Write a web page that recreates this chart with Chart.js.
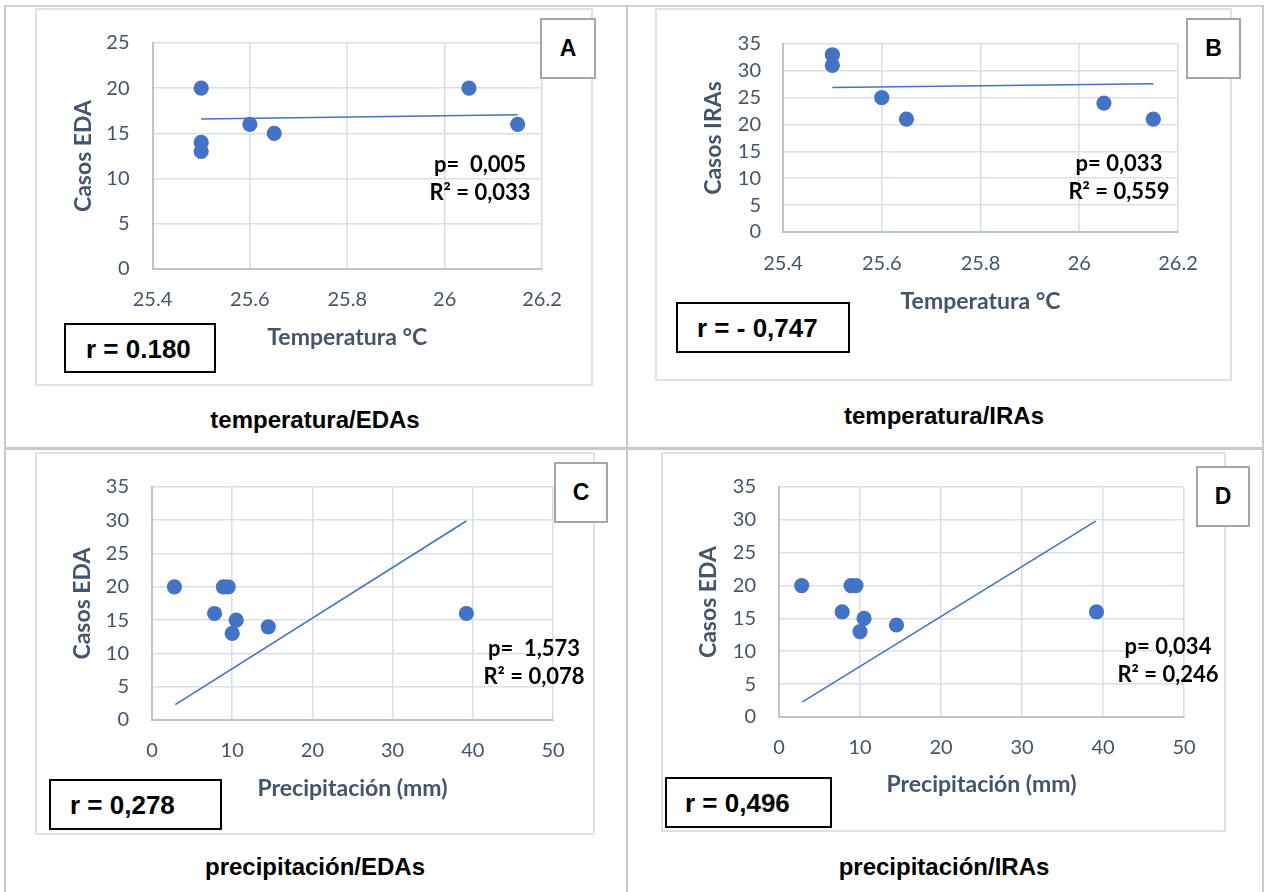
<!DOCTYPE html>
<html>
<head>
<meta charset="utf-8">
<script src="https://cdn.jsdelivr.net/npm/chart.js@4.4.1/dist/chart.umd.min.js"></script>
<style>
  body { margin: 0; background: #fff; width: 1265px; height: 892px; position: relative; overflow: hidden; }
  .rule { position: absolute; background: #c9c9c9; }
  .frame { position: absolute; border: 2px solid #dde2e9; box-sizing: border-box; }
  canvas { position: absolute; }
  .tag { position: absolute; box-sizing: border-box; border: 2.5px solid #a6a6a6; background: #fff;
         display: flex; align-items: center; justify-content: center; font: bold 23px "Liberation Sans", Arial, sans-serif; color: #000; }
  .rbox { position: absolute; box-sizing: border-box; border: 2px solid #000; background: #fff;
          font: bold 26px "Liberation Sans", Arial, sans-serif; color: #000; white-space: pre; }
  .stat { position: absolute; font: bold 22px Lato, sans-serif; color: #000; text-align: center;
          white-space: pre; line-height: 28px; transform: translateX(-50%); }
  .cap { position: absolute; font: bold 24px "Liberation Sans", Arial, sans-serif; color: #000;
         line-height: 24px; white-space: nowrap; transform: translateX(-50%); }
</style>
</head>
<body>
<!-- table rules -->
<div class="rule" style="left:4px;top:5px;width:1260px;height:2px;background:#d3d3d3"></div>
<div class="rule" style="left:4px;top:5px;width:2px;height:887px"></div>
<div class="rule" style="left:626px;top:5px;width:2px;height:887px"></div>
<div class="rule" style="left:1262px;top:5px;width:2px;height:887px"></div>
<div class="rule" style="left:4px;top:447px;width:1260px;height:3px"></div>

<div class="frame" style="left:35px;top:8px;width:558px;height:378px"></div>
<div class="frame" style="left:655px;top:8px;width:577px;height:373px"></div>
<div class="frame" style="left:35px;top:452px;width:560px;height:383px"></div>
<div class="frame" style="left:661px;top:452px;width:565px;height:380px"></div>

<canvas id="chartA"></canvas>
<canvas id="chartB"></canvas>
<canvas id="chartC"></canvas>
<canvas id="chartD"></canvas>

<div class="tag" style="left:540px;top:18px;width:56px;height:61px">A</div>
<div class="tag" style="left:1186px;top:18px;width:55px;height:61px">B</div>
<div class="tag" style="left:554px;top:462px;width:54px;height:61px">C</div>
<div class="tag" style="left:1196px;top:466px;width:54px;height:61px">D</div>

<div class="stat" style="left:480px;top:150px">p=  0,005
R² = 0,033</div>
<div class="stat" style="left:1119px;top:149px">p= 0,033
R² = 0,559</div>
<div class="stat" style="left:534px;top:634px">p=  1,573
R² = 0,078</div>
<div class="stat" style="left:1168px;top:632px">p= 0,034
R² = 0,246</div>

<div class="rbox" style="left:64px;top:323px;width:152px;height:50px;padding:9px 0 0 20px">r = 0.180</div>
<div class="rbox" style="left:676px;top:302px;width:174px;height:51px;padding:9px 0 0 19px">r = - 0,747</div>
<div class="rbox" style="left:49px;top:779px;width:173px;height:51px;padding:9px 0 0 19px">r = 0,278</div>
<div class="rbox" style="left:665px;top:777px;width:167px;height:51px;padding:9px 0 0 18px">r = 0,496</div>

<div class="cap" style="left:315px;top:408px">temperatura/EDAs</div>
<div class="cap" style="left:944px;top:404px">temperatura/IRAs</div>
<div class="cap" style="left:315px;top:855px">precipitación/EDAs</div>
<div class="cap" style="left:944px;top:855px">precipitación/IRAs</div>

<script>
// temperatura vs EDA
const tempEdaX = [25.5, 25.5, 25.5, 25.6, 25.65, 26.05, 26.15];
const tempEdaY = [20, 14, 13, 16, 15, 20, 16];
const trendAX = [25.5, 26.15];
const trendAY = [16.6, 17.06];
// temperatura vs IRA
const tempIraX = [25.5, 25.5, 25.6, 25.65, 26.05, 26.15];
const tempIraY = [33, 31, 25, 21, 24, 21];
const trendBX = [25.5, 26.15];
const trendBY = [26.9, 27.6];
// precipitacion vs EDA / IRA
const precX = [2.8, 8.9, 9.5, 7.8, 10.5, 10, 14.5, 39.2];
const precEdaY = [20, 20, 20, 16, 15, 13, 14, 16];
const precIraY = [20, 20, 20, 16, 15, 13, 14, 16];
const trendCX = [2.9, 39.2];
const trendCY = [2.3, 29.9];
const trendDX = [2.9, 39.1];
const trendDY = [2.3, 29.8];
// ticks
const tempTicks = [25.4, 25.6, 25.8, 26, 26.2];
const tempTickLabels = ["25.4", "25.6", "25.8", "26", "26.2"];
const precTicks = [0, 10, 20, 30, 40, 50];
const precTickLabels = ["0", "10", "20", "30", "40", "50"];
const casosTicks25 = [0, 5, 10, 15, 20, 25];
const casosTicks35 = [0, 5, 10, 15, 20, 25, 30, 35];

const BLUE = "#4472C4";
const TEXT = "#44546A";
const TICK_SIZE = 20;
const TITLE_SIZE = 23;

// work out paddings so the plot area lands where it is in the picture
function layoutFor(f, p, yTitleX, xTitleY, yGap, xLabelY) {
  const th = (TITLE_SIZE * 1.2) / 2;
  const padL = yTitleX - f.l - th;
  return {
    f,
    padding: { left: padL, top: p.t - f.t, right: f.r - p.r, bottom: f.b - (xTitleY + th) },
    yWidth: p.l - f.l - padL,
    xHeight: xTitleY + th - p.b,
    yTickPad: yGap,
    xTickPad: xLabelY - p.b - (TICK_SIZE * 1.2) / 2,
  };
}

function toPoints(xs, ys) {
  return xs.map((x, i) => ({ x: x, y: ys[i] }));
}

function drawChart(id, L, xs, ys, tx, ty, xTicks, xLabels, yTicks, xTitle, yTitle) {
  const cv = document.getElementById(id);
  cv.width = L.f.r - L.f.l;
  cv.height = L.f.b - L.f.t;
  cv.style.left = L.f.l + "px";
  cv.style.top = L.f.t + "px";
  const tickFont = { family: "Lato", size: TICK_SIZE, lineHeight: 1.2 };
  const titleFont = { family: "Lato", size: TITLE_SIZE, weight: "bold", lineHeight: 1.2 };
  new Chart(cv, {
    type: "scatter",
    data: {
      datasets: [
        {
          data: toPoints(tx, ty),
          showLine: true,
          borderColor: BLUE,
          borderWidth: 1.6,
          pointRadius: 0,
          fill: false,
          order: 1,
        },
        {
          data: toPoints(xs, ys),
          backgroundColor: BLUE,
          borderColor: BLUE,
          pointRadius: 7.6,
          borderWidth: 0,
          order: 2,
        },
      ],
    },
    options: {
      responsive: false,
      animation: false,
      layout: { padding: L.padding },
      plugins: { legend: { display: false }, tooltip: { enabled: false } },
      scales: {
        x: {
          type: "linear",
          min: xTicks[0],
          max: xTicks[xTicks.length - 1],
          afterBuildTicks: (s) => { s.ticks = xTicks.map((v) => ({ value: v })); },
          afterFit: (s) => { s.height = L.xHeight; },
          grid: { color: "#dadfe7", lineWidth: 1.6, drawTicks: false },
          border: { color: "#bcc4d0", width: 2 },
          ticks: { padding: L.xTickPad, font: tickFont, color: TEXT, maxRotation: 0, autoSkip: false,
                   callback: (v, i) => xLabels[i] },
          title: { display: true, text: xTitle, color: TEXT, font: titleFont, padding: 0 },
        },
        y: {
          type: "linear",
          min: yTicks[0],
          max: yTicks[yTicks.length - 1],
          afterBuildTicks: (s) => { s.ticks = yTicks.map((v) => ({ value: v })); },
          afterFit: (s) => { s.width = L.yWidth; },
          grid: { color: "#dadfe7", lineWidth: 1.6, drawTicks: false },
          border: { color: "#bcc4d0", width: 2 },
          ticks: { padding: L.yTickPad, font: tickFont, color: TEXT, autoSkip: false,
                   callback: (v) => String(v) },
          title: { display: true, text: yTitle, color: TEXT, font: titleFont, padding: 0 },
        },
      },
    },
  });
}

const LA = layoutFor({ l: 35, t: 8, r: 593, b: 386 }, { l: 152.5, t: 37, r: 542, b: 269 }, 84, 338, 23, 300);
const LB = layoutFor({ l: 655, t: 8, r: 1232, b: 381 }, { l: 783, t: 44, r: 1178, b: 232 }, 714, 302, 22, 264);
const LC = layoutFor({ l: 35, t: 452, r: 595, b: 835 }, { l: 152, t: 481, r: 553, b: 720 }, 83, 789, 23, 751);
const LD = layoutFor({ l: 661, t: 452, r: 1226, b: 832 }, { l: 779, t: 481, r: 1184, b: 717 }, 709, 785, 23, 748);

drawChart("chartA", LA, tempEdaX, tempEdaY, trendAX, trendAY, tempTicks, tempTickLabels, casosTicks25, "Temperatura °C", "Casos EDA");
drawChart("chartB", LB, tempIraX, tempIraY, trendBX, trendBY, tempTicks, tempTickLabels, casosTicks35, "Temperatura °C", "Casos IRAs");
drawChart("chartC", LC, precX, precEdaY, trendCX, trendCY, precTicks, precTickLabels, casosTicks35, "Precipitación (mm)", "Casos EDA");
drawChart("chartD", LD, precX, precIraY, trendDX, trendDY, precTicks, precTickLabels, casosTicks35, "Precipitación (mm)", "Casos EDA");
</script>
</body>
</html>
